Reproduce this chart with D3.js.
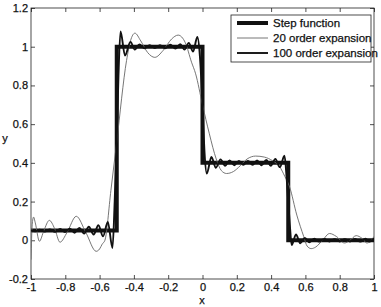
<!DOCTYPE html>
<html>
<head>
<meta charset="UTF-8">
<script src="https://cdn.jsdelivr.net/npm/d3@7/dist/d3.min.js"></script>
<style>
  body { margin: 0; background: #fff; }
  text { font-family: "Liberation Sans", Arial, sans-serif; fill: #111; stroke: #111; stroke-width: 0.25px; }
</style>
</head>
<body>
<svg width="381" height="307"></svg>
<script>
// ---- data ----
var xTicks = [-1, -0.8, -0.6, -0.4, -0.2, 0, 0.2, 0.4, 0.6, 0.8, 1];
var xTickLabels = ["-1", "-0.8", "-0.6", "-0.4", "-0.2", "0", "0.2", "0.4", "0.6", "0.8", "1"];
var yTicks = [-0.2, 0, 0.2, 0.4, 0.6, 0.8, 1, 1.2];
var yTickLabels = ["-0.2", "0", "0.2", "0.4", "0.6", "0.8", "1", "1.2"];
var seriesNames = ["Step function", "20 order expansion", "100 order expansion"];

// step function
var stepX = [-1, -0.5, -0.5, 0, 0, 0.5, 0.5, 1];
var stepY = [0.05, 0.05, 1, 1, 0.4, 0.4, 0, 0];

// 20 order expansion
var ord20X = [-1, -0.993, -0.985, -0.975, -0.951, -0.925, -0.893, -0.862, -0.831, -0.79, -0.736, -0.68, -0.62, -0.6,
  -0.585, -0.569, -0.534, -0.5, -0.443, -0.42, -0.394, -0.36, -0.32, -0.278, -0.23, -0.18, -0.142, -0.1, -0.064, -0.04,
  0, 0.04, 0.08, 0.11, 0.14, 0.18, 0.22, 0.26, 0.31, 0.36, 0.41, 0.45, 0.48, 0.508, 0.55, 0.59, 0.61, 0.634, 0.66,
  0.7, 0.741, 0.78, 0.828, 0.86, 0.896, 0.93, 0.958, 0.985, 1];
var ord20Y = [-0.1, 0.08, 0.12, 0.09, -0.005, 0.05, 0.103, 0.06, -0.01, 0.04, 0.124, 0.04, -0.057, -0.045,
  -0.02, 0, 0.258, 0.51, 0.928, 1.03, 1.07, 1.03, 0.97, 0.945, 0.98, 1.04, 1.06, 1.02, 0.92, 0.86,
  0.7, 0.55, 0.42, 0.36, 0.345, 0.355, 0.385, 0.42, 0.435, 0.43, 0.41, 0.38, 0.33, 0.275, 0.13, 0.02, -0.03, -0.043, -0.035,
  0, 0.035, 0.02, -0.014, 0, 0.024, 0.01, -0.014, 0, 0.02];

// 100 order expansion
var ord100X = [-1, -0.975, -0.95, -0.92, -0.89, -0.86, -0.83, -0.802, -0.774, -0.746, -0.718, -0.69, -0.663, -0.635,
  -0.607, -0.58, -0.552, -0.525, -0.512, -0.5, -0.49, -0.478, -0.452, -0.42, -0.395, -0.368, -0.338, -0.308, -0.278,
  -0.248, -0.218, -0.188, -0.158, -0.13, -0.105, -0.08, -0.055, -0.03, -0.015, 0, 0.012, 0.025, 0.052, 0.078, 0.105,
  0.132, 0.158, 0.185, 0.212, 0.238, 0.265, 0.292, 0.318, 0.345, 0.372, 0.398, 0.425, 0.451, 0.478, 0.49, 0.5, 0.51,
  0.52, 0.545, 0.57, 0.597, 0.624, 0.652, 0.68, 0.71, 0.74, 0.77, 0.8, 0.83, 0.86, 0.89, 0.92, 0.95, 0.975, 1];
var ord100Y = [0.05, 0.046, 0.055, 0.045, 0.056, 0.044, 0.058, 0.042, 0.06, 0.039, 0.064, 0.035, 0.07, 0.03,
  0.078, 0.02, 0.095, -0.04, 0.2, 0.525, 0.85, 1.079, 0.955, 1.025, 0.985, 1.012, 0.992, 1.008, 0.993,
  1.008, 0.992, 1.01, 0.99, 1.013, 0.985, 1.02, 0.975, 1.05, 0.95, 0.7, 0.45, 0.345, 0.43, 0.375, 0.418,
  0.385, 0.413, 0.388, 0.41, 0.39, 0.41, 0.39, 0.412, 0.388, 0.415, 0.385, 0.42, 0.378, 0.437, 0.33, 0.2, 0.07,
  -0.025, 0.03, -0.015, 0.012, -0.01, 0.008, -0.007, 0.007, -0.006, 0.006, -0.006, 0.006, -0.006, 0.007, -0.007, 0.008, -0.006, 0.01];

// ---- layout ----
var svg = d3.select("svg");
var plot = {left: 31, right: 374, top: 8, bottom: 279};

var x = d3.scaleLinear().domain([-1, 1]).range([plot.left, plot.right]);
var y = d3.scaleLinear().domain([-0.2, 1.2]).range([plot.bottom, plot.top]);

svg.append("rect").attr("width", 381).attr("height", 307).attr("fill", "#fff");

svg.append("defs").append("clipPath").attr("id", "clip")
  .append("rect")
  .attr("x", plot.left).attr("y", plot.top)
  .attr("width", plot.right - plot.left).attr("height", plot.bottom - plot.top);

// axes, ticks pointing inward
function styleAxis(g) {
  g.select(".domain").remove();
  g.selectAll("line").attr("stroke", "#222").attr("stroke-width", 0.8);
  g.selectAll("text").attr("font-size", 11);
}

svg.append("g")
  .attr("transform", "translate(0," + plot.bottom + ")")
  .call(d3.axisBottom(x).tickValues(xTicks).tickSize(-4).tickPadding(4)
    .tickFormat(function(d, i) { return xTickLabels[i]; }))
  .call(styleAxis);

svg.append("g")
  .attr("transform", "translate(0," + plot.top + ")")
  .call(d3.axisTop(x).tickValues(xTicks).tickSize(-4).tickFormat(""))
  .call(styleAxis);

svg.append("g")
  .attr("transform", "translate(" + plot.left + ",0)")
  .call(d3.axisLeft(y).tickValues(yTicks).tickSize(-4).tickPadding(3)
    .tickFormat(function(d, i) { return yTickLabels[i]; }))
  .call(styleAxis);

svg.append("g")
  .attr("transform", "translate(" + plot.right + ",0)")
  .call(d3.axisRight(y).tickValues(yTicks).tickSize(-4).tickFormat(""))
  .call(styleAxis);

svg.append("rect")
  .attr("x", plot.left).attr("y", plot.top)
  .attr("width", plot.right - plot.left).attr("height", plot.bottom - plot.top)
  .attr("fill", "none").attr("stroke", "#222").attr("stroke-width", 0.8);

// axis labels
svg.append("text").attr("x", 5).attr("y", 142).attr("text-anchor", "middle")
  .attr("font-size", 11).text("y");
svg.append("text").attr("x", 202).attr("y", 304).attr("text-anchor", "middle")
  .attr("font-size", 11).text("x");

// ---- lines ----
var lines = svg.append("g").attr("clip-path", "url(#clip)");

var stepLine = d3.line()
  .x(function(d, i) { return x(stepX[i]); })
  .y(function(d, i) { return y(stepY[i]); });

var smoothLine = d3.line()
  .x(function(d) { return x(d[0]); })
  .y(function(d) { return y(d[1]); })
  .curve(d3.curveMonotoneX);

lines.append("path")
  .attr("d", stepLine(stepX))
  .attr("fill", "none").attr("stroke", "#111").attr("stroke-width", 4);

lines.append("path")
  .attr("d", smoothLine(d3.zip(ord20X, ord20Y)))
  .attr("fill", "none").attr("stroke", "#666").attr("stroke-width", 0.9);

lines.append("path")
  .attr("d", smoothLine(d3.zip(ord100X, ord100Y)))
  .attr("fill", "none").attr("stroke", "#111").attr("stroke-width", 1.9);

// ---- legend ----
var legendStyles = [
  {color: "#111", width: 4},
  {color: "#666", width: 0.9},
  {color: "#111", width: 1.9}
];
var legend = svg.append("g");
legend.append("rect")
  .attr("x", 231).attr("y", 15).attr("width", 140).attr("height", 47)
  .attr("fill", "#fff").attr("stroke", "#222").attr("stroke-width", 0.8);

var rows = legend.selectAll(".row")
  .data(seriesNames)
  .enter()
  .append("g")
  .attr("transform", function(d, i) { return "translate(0," + (23 + i * 15) + ")"; });

rows.append("line")
  .attr("x1", 237).attr("x2", 268)
  .attr("stroke", function(d, i) { return legendStyles[i].color; })
  .attr("stroke-width", function(d, i) { return legendStyles[i].width; });

rows.append("text")
  .attr("x", 273).attr("dy", "0.35em")
  .attr("font-size", 11.5)
  .text(function(d) { return d; });
</script>
</body>
</html>
